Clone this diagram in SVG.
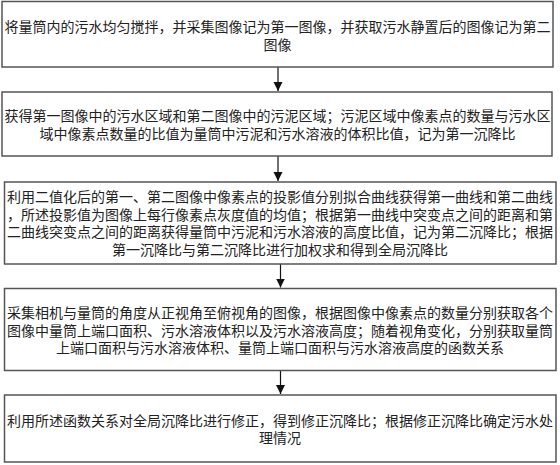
<svg xmlns="http://www.w3.org/2000/svg" width="560" height="465" viewBox="0 0 560 465">
  <defs>
    <style>
      .box { fill: #ffffff; stroke: #555555; stroke-width: 1.5; }
      .t { font-family: "Noto Sans CJK SC", "Noto Sans", sans-serif; font-size: 14px; fill: #222222; text-anchor: middle; dominant-baseline: central; }
      .conn { stroke: #111111; stroke-width: 1.2; fill: none; marker-end: url(#arrow); }
    </style>
    <marker id="arrow" viewBox="0 0 10 10" refX="10" refY="5" markerWidth="9" markerHeight="12" markerUnits="userSpaceOnUse" orient="auto">
      <path d="M0,0 L10,5 L0,10 Z" fill="#111111"/>
    </marker>
  </defs>
  <rect width="560" height="465" fill="#ffffff"/>

  <g id="connectors">
    <line class="conn" x1="278" y1="67" x2="278" y2="91"/>
    <line class="conn" x1="278" y1="156" x2="278" y2="181"/>
    <line class="conn" x1="280.5" y1="264" x2="280.5" y2="287.5"/>
    <line class="conn" x1="280.5" y1="370.5" x2="280.5" y2="394"/>
  </g>

  <g id="node1">
    <rect class="box" x="2" y="1.5" width="551" height="65.5"/>
    <text class="t" x="277.5" y="25.5">将量筒内的污水均匀搅拌，并采集图像记为第一图像，并获取污水静置后的图像记为第二</text>
    <text class="t" x="277.5" y="43.5">图像</text>
  </g>

  <g id="node2">
    <rect class="box" x="2" y="92" width="550" height="64"/>
    <text class="t" x="277.5" y="115">获得第一图像中的污水区域和第二图像中的污泥区域；污泥区域中像素点的数量与污水区</text>
    <text class="t" x="277.5" y="132.5">域中像素点数量的比值为量筒中污泥和污水溶液的体积比值，记为第一沉降比</text>
  </g>

  <g id="node3">
    <rect class="box" x="4.5" y="182" width="551.5" height="82"/>
    <text class="t" x="280" y="196">利用二值化后的第一、第二图像中像素点的投影值分别拟合曲线获得第一曲线和第二曲线</text>
    <text class="t" x="280" y="213.5">，所述投影值为图像上每行像素点灰度值的均值；根据第一曲线中突变点之间的距离和第</text>
    <text class="t" x="280" y="231">二曲线突变点之间的距离获得量筒中污泥和污水溶液的高度比值，记为第二沉降比；根据</text>
    <text class="t" x="280" y="248.5">第一沉降比与第二沉降比进行加权求和得到全局沉降比</text>
  </g>

  <g id="node4">
    <rect class="box" x="4.5" y="288.5" width="551.5" height="82"/>
    <text class="t" x="280" y="312">采集相机与量筒的角度从正视角至俯视角的图像，根据图像中像素点的数量分别获取各个</text>
    <text class="t" x="280" y="329.5">图像中量筒上端口面积、污水溶液体积以及污水溶液高度；随着视角变化，分别获取量筒</text>
    <text class="t" x="280" y="347">上端口面积与污水溶液体积、量筒上端口面积与污水溶液高度的函数关系</text>
  </g>

  <g id="node5">
    <rect class="box" x="4.5" y="395" width="551.5" height="67"/>
    <text class="t" x="280" y="419.5">利用所述函数关系对全局沉降比进行修正，得到修正沉降比；根据修正沉降比确定污水处</text>
    <text class="t" x="280" y="437">理情况</text>
  </g>
</svg>
